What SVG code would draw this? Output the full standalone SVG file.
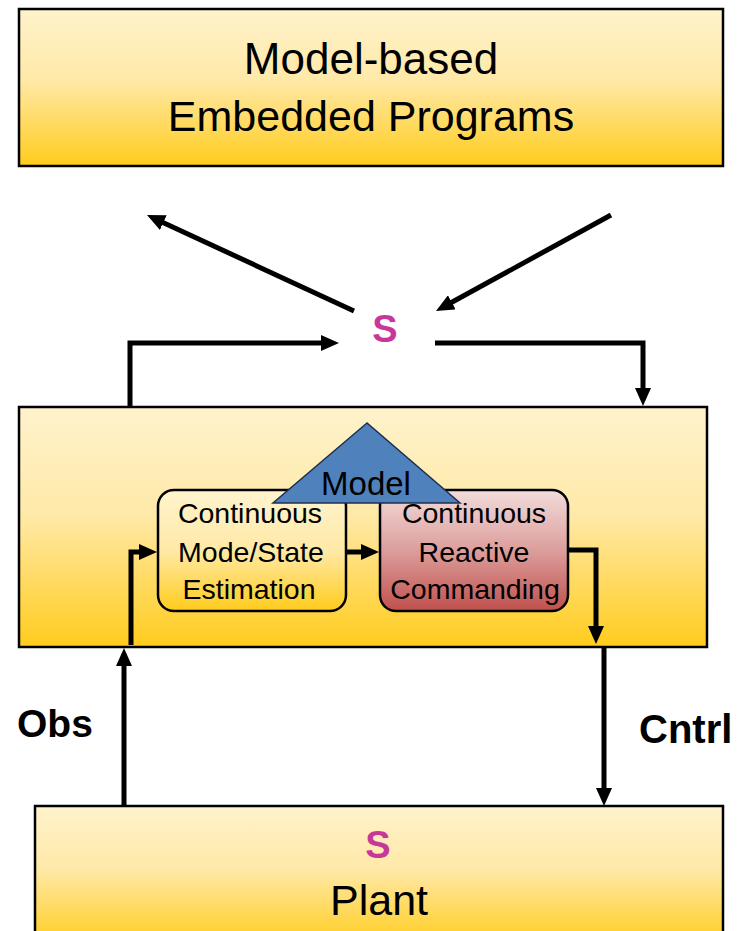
<svg xmlns="http://www.w3.org/2000/svg" width="747" height="931" viewBox="0 0 747 931">
<style>
.box{stroke:#000;stroke-width:2.5}
.t{font-family:"Liberation Sans",Arial,sans-serif;fill:#000;text-anchor:middle}
.s{font-family:"Liberation Sans",Arial,sans-serif;font-weight:bold;fill:#C8379A;text-anchor:middle}
.lbl{font-family:"Liberation Sans",Arial,sans-serif;font-weight:bold;fill:#000}
.c{fill:none;stroke:#000;stroke-width:5;stroke-linejoin:miter;marker-end:url(#ah)}
</style>
<defs>
<linearGradient id="gold" x1="0" y1="0" x2="0" y2="1">
<stop offset="0" stop-color="#FFF3CC"/>
<stop offset="0.45" stop-color="#FFE9A8"/>
<stop offset="1" stop-color="#FFCC1C"/>
</linearGradient>
<linearGradient id="goldIn" x1="0" y1="0" x2="0" y2="1">
<stop offset="0" stop-color="#FFF4CF"/>
<stop offset="0.5" stop-color="#FFE9A6"/>
<stop offset="1" stop-color="#FFCC1C"/>
</linearGradient>
<linearGradient id="red" x1="0" y1="0" x2="0" y2="1">
<stop offset="0" stop-color="#F2DCDB"/>
<stop offset="0.5" stop-color="#DC9E9C"/>
<stop offset="1" stop-color="#C0504D"/>
</linearGradient>
<marker id="ah" viewBox="0 0 18 16" markerWidth="18" markerHeight="16" refX="1" refY="8" orient="auto" markerUnits="userSpaceOnUse">
<path d="M0,0 L18,8 L0,16 z" fill="#000"/>
</marker>
</defs>

<g id="programs">
<rect class="box" x="19" y="9" width="704" height="157" fill="url(#gold)"/>
<text class="t" x="371" y="74" font-size="44">Model-based</text>
<text class="t" x="371" y="131" font-size="43">Embedded Programs</text>
</g>

<g id="s-top">
<text class="s" x="385" y="342" font-size="38">S</text>
</g>

<g id="executive">
<rect class="box" x="19" y="407" width="688" height="240" fill="url(#gold)"/>
</g>

<g id="estimation">
<rect class="box" x="158" y="490" width="188" height="121" rx="16" fill="url(#goldIn)" stroke-width="2"/>
<text class="t" x="250" y="523" font-size="28.5">Continuous</text>
<text class="t" x="251" y="562" font-size="28.5">Mode/State</text>
<text class="t" x="249" y="599" font-size="28.5">Estimation</text>
</g>

<g id="commanding">
<rect class="box" x="380" y="490" width="188" height="121" rx="16" fill="url(#red)" stroke-width="2"/>
<text class="t" x="474" y="523" font-size="28.5">Continuous</text>
<text class="t" x="474" y="562" font-size="28.5">Reactive</text>
<text class="t" x="475" y="599" font-size="28.5">Commanding</text>
</g>

<g id="model">
<polygon points="367,423 273,503 460,503" fill="#4F81BD" stroke="#1F2F4F" stroke-width="1.5"/>
<text class="t" x="366" y="495" font-size="33">Model</text>
</g>

<g id="plant">
<rect class="box" x="35" y="806" width="688" height="140" fill="url(#gold)"/>
<text class="s" x="378" y="858" font-size="38">S</text>
<text class="t" x="379" y="915" font-size="43">Plant</text>
</g>

<g id="labels">
<text class="lbl" x="17" y="737" font-size="39">Obs</text>
<text class="lbl" x="639" y="743" font-size="40">Cntrl</text>
</g>

<g id="connectors">
<path class="c" d="M354,311 L162.4,222.2"/>
<path class="c" d="M611,215 L450.9,302.8"/>
<path class="c" d="M130,407 V343 H322"/>
<path class="c" d="M435,343 H643 V389"/>
<path class="c" d="M131,645 V552 H140"/>
<path class="c" d="M346,552 H362"/>
<path class="c" d="M568,550 H596 V627"/>
<path class="c" d="M124,806 V665" stroke-width="4.5"/>
<path class="c" d="M604,648 V789" stroke-width="4.5"/>
</g>
</svg>
